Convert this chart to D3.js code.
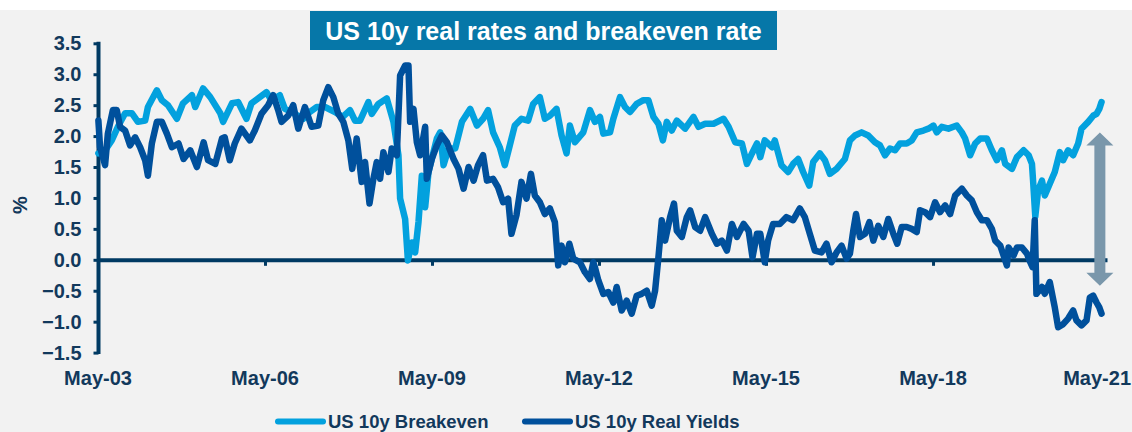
<!DOCTYPE html>
<html>
<head>
<meta charset="utf-8">
<script src="https://cdn.jsdelivr.net/npm/d3@7"></script>
<style>
    body { margin: 0; background: #ffffff; }
    svg { display: block; font-family: "Liberation Sans", Arial, sans-serif; }
</style>
</head>
<body>
<svg id="chart" width="1132" height="432"></svg>
<script>
// values: [decimal year, %]
const breakeven = [
    [2003.34, 1.72], [2003.46, 1.77], [2003.58, 1.93], [2003.69, 2.15], [2003.82, 2.37], [2003.94, 2.37],
    [2004.05, 2.23], [2004.18, 2.25], [2004.23, 2.47], [2004.39, 2.74], [2004.48, 2.58], [2004.59, 2.50],
    [2004.75, 2.28], [2004.86, 2.53], [2005.02, 2.66], [2005.08, 2.47], [2005.22, 2.77], [2005.35, 2.63],
    [2005.53, 2.37], [2005.58, 2.23], [2005.74, 2.53], [2005.85, 2.55], [2006.00, 2.28], [2006.09, 2.53],
    [2006.24, 2.63], [2006.36, 2.71], [2006.45, 2.58], [2006.60, 2.66], [2006.69, 2.44], [2006.81, 2.39],
    [2007.02, 2.28], [2007.11, 2.37], [2007.26, 2.47], [2007.41, 2.47], [2007.59, 2.39], [2007.73, 2.31],
    [2007.86, 2.42], [2007.95, 2.25], [2008.04, 2.25], [2008.19, 2.55], [2008.25, 2.36], [2008.37, 2.52],
    [2008.52, 2.61], [2008.64, 2.23], [2008.73, 1.69], [2008.76, 0.99], [2008.85, 0.66], [2008.90, -0.01],
    [2008.97, 0.28], [2009.03, 0.12], [2009.09, 0.61], [2009.15, 1.36], [2009.21, 0.85], [2009.27, 1.42],
    [2009.42, 1.96], [2009.48, 2.06], [2009.54, 1.53], [2009.63, 1.80], [2009.75, 1.80], [2009.87, 2.23],
    [2010.02, 2.44], [2010.14, 2.17], [2010.25, 2.28], [2010.34, 2.42], [2010.43, 2.06], [2010.55, 1.82],
    [2010.64, 1.53], [2010.73, 1.85], [2010.82, 2.17], [2010.94, 2.28], [2011.06, 2.25], [2011.15, 2.52],
    [2011.27, 2.63], [2011.36, 2.28], [2011.45, 2.33], [2011.57, 2.44], [2011.66, 2.01], [2011.75, 1.72],
    [2011.81, 2.17], [2011.90, 1.90], [2012.05, 2.06], [2012.17, 2.42], [2012.26, 2.23], [2012.35, 2.31],
    [2012.41, 2.04], [2012.53, 2.06], [2012.59, 2.28], [2012.71, 2.63], [2012.80, 2.47], [2012.89, 2.39],
    [2013.01, 2.52], [2013.13, 2.58], [2013.22, 2.58], [2013.31, 2.31], [2013.40, 2.20], [2013.48, 1.93],
    [2013.55, 2.23], [2013.64, 2.09], [2013.73, 2.25], [2013.88, 2.12], [2014.03, 2.31], [2014.12, 2.15],
    [2014.24, 2.20], [2014.39, 2.20], [2014.57, 2.28], [2014.66, 2.15], [2014.78, 1.90], [2014.90, 1.88],
    [2014.99, 1.55], [2015.08, 1.72], [2015.17, 1.88], [2015.23, 1.66], [2015.31, 1.93], [2015.44, 1.82],
    [2015.49, 1.93], [2015.61, 1.53], [2015.73, 1.42], [2015.82, 1.55], [2015.91, 1.63], [2016.00, 1.42],
    [2016.11, 1.20], [2016.18, 1.58], [2016.30, 1.72], [2016.39, 1.61], [2016.48, 1.39], [2016.60, 1.47],
    [2016.75, 1.63], [2016.84, 1.93], [2016.93, 2.01], [2017.05, 2.06], [2017.17, 2.01], [2017.29, 1.90],
    [2017.38, 1.85], [2017.47, 1.69], [2017.56, 1.80], [2017.65, 1.77], [2017.74, 1.88], [2017.86, 1.88],
    [2017.95, 1.93], [2018.04, 2.06], [2018.16, 2.09], [2018.25, 2.12], [2018.34, 2.17], [2018.40, 2.06],
    [2018.49, 2.15], [2018.61, 2.12], [2018.76, 2.17], [2018.85, 2.06], [2018.91, 1.96], [2019.00, 1.69],
    [2019.09, 1.88], [2019.18, 1.96], [2019.30, 1.96], [2019.39, 1.77], [2019.48, 1.61], [2019.57, 1.77],
    [2019.63, 1.55], [2019.75, 1.47], [2019.84, 1.66], [2019.96, 1.77], [2020.05, 1.69], [2020.11, 1.55],
    [2020.13, 1.28], [2020.17, 0.70], [2020.22, 1.12], [2020.29, 1.28], [2020.34, 1.04], [2020.43, 1.23],
    [2020.52, 1.42], [2020.61, 1.74], [2020.67, 1.61], [2020.76, 1.77], [2020.85, 1.69], [2020.94, 1.88],
    [2021.00, 2.12], [2021.12, 2.23], [2021.21, 2.33], [2021.27, 2.36], [2021.32, 2.44], [2021.36, 2.55],
];

const realYields = [
    [2003.34, 2.25], [2003.37, 1.82], [2003.46, 1.53], [2003.51, 2.04], [2003.60, 2.42], [2003.67, 2.42],
    [2003.73, 2.15], [2003.82, 2.09], [2003.91, 1.85], [2004.00, 1.98], [2004.09, 1.82], [2004.18, 1.61],
    [2004.23, 1.36], [2004.30, 1.88], [2004.39, 2.23], [2004.48, 2.23], [2004.57, 2.04], [2004.66, 1.82],
    [2004.78, 1.88], [2004.87, 1.63], [2004.99, 1.77], [2005.11, 1.50], [2005.23, 1.90], [2005.31, 1.61],
    [2005.44, 1.55], [2005.56, 1.96], [2005.61, 1.98], [2005.70, 1.61], [2005.79, 1.88], [2005.91, 2.12],
    [2006.06, 1.93], [2006.15, 2.09], [2006.27, 2.36], [2006.39, 2.50], [2006.48, 2.66], [2006.57, 2.42],
    [2006.63, 2.23], [2006.75, 2.33], [2006.84, 2.50], [2006.93, 2.12], [2007.05, 2.47], [2007.17, 2.15],
    [2007.29, 2.17], [2007.38, 2.58], [2007.47, 2.79], [2007.56, 2.63], [2007.65, 2.36], [2007.74, 2.23],
    [2007.83, 1.93], [2007.90, 1.47], [2007.98, 1.96], [2008.07, 1.26], [2008.13, 1.58], [2008.21, 0.91],
    [2008.28, 1.31], [2008.34, 1.58], [2008.40, 1.31], [2008.46, 1.74], [2008.55, 1.42], [2008.61, 1.80],
    [2008.70, 1.69], [2008.76, 2.98], [2008.85, 3.14], [2008.91, 3.14], [2008.94, 2.23], [2009.00, 2.44],
    [2009.06, 1.90], [2009.12, 1.69], [2009.21, 2.15], [2009.24, 1.31], [2009.33, 1.63], [2009.42, 1.85],
    [2009.51, 2.01], [2009.60, 1.90], [2009.72, 1.63], [2009.81, 1.47], [2009.90, 1.15], [2009.99, 1.50],
    [2010.08, 1.28], [2010.16, 1.53], [2010.25, 1.69], [2010.32, 1.28], [2010.43, 1.31], [2010.52, 1.17],
    [2010.61, 0.93], [2010.70, 0.99], [2010.76, 0.42], [2010.85, 0.72], [2010.94, 1.26], [2011.03, 0.99],
    [2011.11, 1.39], [2011.18, 1.04], [2011.27, 0.93], [2011.36, 0.74], [2011.45, 0.83], [2011.54, 0.61],
    [2011.60, -0.09], [2011.66, 0.23], [2011.72, -0.04], [2011.80, 0.26], [2011.87, 0.02], [2011.99, -0.04],
    [2012.08, -0.20], [2012.17, -0.31], [2012.23, -0.04], [2012.26, -0.12], [2012.32, -0.33], [2012.41, -0.55],
    [2012.50, -0.52], [2012.59, -0.69], [2012.65, -0.44], [2012.74, -0.82], [2012.83, -0.66], [2012.92, -0.87],
    [2013.01, -0.58], [2013.10, -0.55], [2013.19, -0.50], [2013.28, -0.74], [2013.34, -0.50], [2013.40, 0.04],
    [2013.46, 0.64], [2013.52, 0.31], [2013.61, 0.69], [2013.68, 0.91], [2013.73, 0.47], [2013.82, 0.37],
    [2013.91, 0.69], [2013.97, 0.80], [2014.06, 0.53], [2014.15, 0.47], [2014.24, 0.69], [2014.36, 0.42],
    [2014.45, 0.26], [2014.54, 0.31], [2014.63, 0.15], [2014.72, 0.58], [2014.81, 0.37], [2014.93, 0.58],
    [2015.02, 0.47], [2015.09, 0.04], [2015.17, 0.42], [2015.23, 0.42], [2015.31, -0.04], [2015.37, 0.31],
    [2015.46, 0.58], [2015.58, 0.58], [2015.70, 0.69], [2015.82, 0.64], [2015.94, 0.83], [2016.03, 0.69],
    [2016.12, 0.42], [2016.21, 0.15], [2016.33, 0.12], [2016.42, 0.26], [2016.51, -0.04], [2016.60, 0.12],
    [2016.69, 0.23], [2016.78, 0.02], [2016.84, 0.10], [2016.90, 0.47], [2016.95, 0.74], [2017.02, 0.37],
    [2017.11, 0.42], [2017.19, 0.61], [2017.26, 0.31], [2017.35, 0.55], [2017.44, 0.37], [2017.53, 0.66],
    [2017.62, 0.42], [2017.69, 0.26], [2017.77, 0.53], [2017.86, 0.53], [2017.95, 0.50], [2018.04, 0.45],
    [2018.10, 0.80], [2018.19, 0.77], [2018.28, 0.69], [2018.37, 0.93], [2018.46, 0.77], [2018.55, 0.88],
    [2018.64, 0.74], [2018.73, 1.04], [2018.85, 1.15], [2018.94, 1.04], [2019.03, 0.96], [2019.12, 0.77],
    [2019.21, 0.64], [2019.30, 0.64], [2019.39, 0.50], [2019.45, 0.31], [2019.54, 0.23], [2019.60, 0.07],
    [2019.66, -0.09], [2019.69, 0.20], [2019.78, 0.07], [2019.84, 0.20], [2019.93, 0.20], [2020.02, 0.10],
    [2020.08, -0.04], [2020.12, -0.12], [2020.16, 0.64], [2020.19, -0.55], [2020.29, -0.44], [2020.34, -0.55],
    [2020.43, -0.36], [2020.52, -0.77], [2020.58, -1.09], [2020.67, -1.04], [2020.76, -0.95], [2020.85, -0.82],
    [2020.91, -0.98], [2021.00, -1.06], [2021.09, -0.98], [2021.15, -0.61], [2021.21, -0.58], [2021.27, -0.69],
    [2021.32, -0.77], [2021.36, -0.87],
];

const yTicks = [-1.5, -1.0, -0.5, 0.0, 0.5, 1.0, 1.5, 2.0, 2.5, 3.0, 3.5];
const xTickYears = [2003.333, 2006.333, 2009.333, 2012.333, 2015.333, 2018.333, 2021.333];
const xTickLabels = ['May-03', 'May-06', 'May-09', 'May-12', 'May-15', 'May-18', 'May-21'];
const seriesNames = ['US 10y Breakeven', 'US 10y Real Yields'];
const title = 'US 10y real rates and breakeven rate';
// gap arrow drawn at the last date, from breakeven down to real yields
const gapArrow = { year: 2021.33, top: 2.06, bottom: -0.42 };

const lightBlue = '#03a1de';
const darkBlue = '#00509c';
const navy = '#003a63';
const textNavy = '#12395c';

const svg = d3.select('#chart');

svg.append('rect')
    .attr('x', 0).attr('y', 10)
    .attr('width', 1132).attr('height', 422)
    .attr('fill', '#f2f2f2');

const x = d3.scaleLinear()
    .domain([2003.333, 2021.458])
    .range([98, 1107]);

const y = d3.scaleLinear()
    .domain([-1.5, 3.5])
    .range([352.6, 43.3]);

// y axis
const yAxis = svg.append('g')
    .attr('transform', 'translate(98.5,0)')
    .call(d3.axisLeft(y).tickValues(yTicks).tickFormat(d3.format('.1f')).tickSize(5).tickPadding(12));
yAxis.select('.domain').attr('stroke', navy).attr('stroke-width', 4).attr('d', `M0,${y(-1.5) + 1.5}V${y(3.5) - 1.5}`);
yAxis.selectAll('.tick line').attr('stroke', navy).attr('stroke-width', 3);
yAxis.selectAll('.tick text')
    .attr('fill', textNavy)
    .attr('font-size', 20)
    .attr('font-weight', 'bold')
    .attr('font-family', '"Liberation Sans", Arial, sans-serif');

// zero line with the date ticks
const xAxis = svg.append('g')
    .attr('transform', `translate(0,${y(0)})`)
    .call(d3.axisBottom(x).tickValues(xTickYears).tickFormat(() => '').tickSize(6).tickSizeOuter(0));
xAxis.select('.domain').attr('stroke', navy).attr('stroke-width', 4);
xAxis.selectAll('.tick line').attr('stroke', navy).attr('stroke-width', 3);

// date labels (the last one is pinned to the right edge so it is not cut)
svg.append('g')
    .selectAll('text')
    .data(xTickYears)
    .join('text')
    .attr('x', (d, i) => i === xTickYears.length - 1 ? 1131 : x(d))
    .attr('y', 384.5)
    .attr('text-anchor', (d, i) => i === xTickYears.length - 1 ? 'end' : 'middle')
    .attr('fill', textNavy)
    .attr('font-size', 20)
    .attr('font-weight', 'bold')
    .text((d, i) => xTickLabels[i]);

svg.append('text')
    .attr('transform', 'translate(27,205) rotate(-90)')
    .attr('text-anchor', 'middle')
    .attr('fill', textNavy)
    .attr('font-size', 20)
    .attr('font-weight', 'bold')
    .text('%');

// series
const line = d3.line()
    .x((d) => x(d[0]))
    .y((d) => y(d[1]));

svg.append('path').datum(breakeven)
    .attr('fill', 'none')
    .attr('stroke', lightBlue)
    .attr('stroke-width', 6.5)
    .attr('stroke-linejoin', 'round')
    .attr('stroke-linecap', 'round')
    .attr('d', line);

svg.append('path').datum(realYields)
    .attr('fill', 'none')
    .attr('stroke', darkBlue)
    .attr('stroke-width', 6.5)
    .attr('stroke-linejoin', 'round')
    .attr('stroke-linecap', 'round')
    .attr('d', line);

// double arrow
const ax = x(gapArrow.year);
const yTop = y(gapArrow.top);
const yBot = y(gapArrow.bottom);
const head = 13;
svg.append('path')
    .attr('fill', '#7a97ab')
    .attr('d', `M${ax},${yTop} L${ax + 13.5},${yTop + head} L${ax + 5.5},${yTop + head} L${ax + 5.5},${yBot - head}
        L${ax + 13.5},${yBot - head} L${ax},${yBot} L${ax - 13.5},${yBot - head} L${ax - 5.5},${yBot - head}
        L${ax - 5.5},${yTop + head} L${ax - 13.5},${yTop + head} Z`);

// title box
const titleG = svg.append('g');
titleG.append('rect')
    .attr('x', 310).attr('y', 11)
    .attr('width', 467).attr('height', 39)
    .attr('fill', '#0677a8');
titleG.append('text')
    .attr('x', 543.5).attr('y', 39.5)
    .attr('text-anchor', 'middle')
    .attr('fill', '#ffffff')
    .attr('font-size', 25)
    .attr('font-weight', 'bold')
    .text(title);

// legend
const legendX = [276, 523];
const legendColors = [lightBlue, darkBlue];
const legend = svg.append('g');
seriesNames.forEach((name, i) => {
    legend.append('line')
        .attr('x1', legendX[i] + 2).attr('x2', legendX[i] + 47)
        .attr('y1', 421.5).attr('y2', 421.5)
        .attr('stroke', legendColors[i])
        .attr('stroke-width', 6)
        .attr('stroke-linecap', 'round');
    legend.append('text')
        .attr('x', legendX[i] + 52).attr('y', 428)
        .attr('fill', textNavy)
        .attr('font-size', 18.5)
        .attr('font-weight', 'bold')
        .text(name);
});
</script>
</body>
</html>
